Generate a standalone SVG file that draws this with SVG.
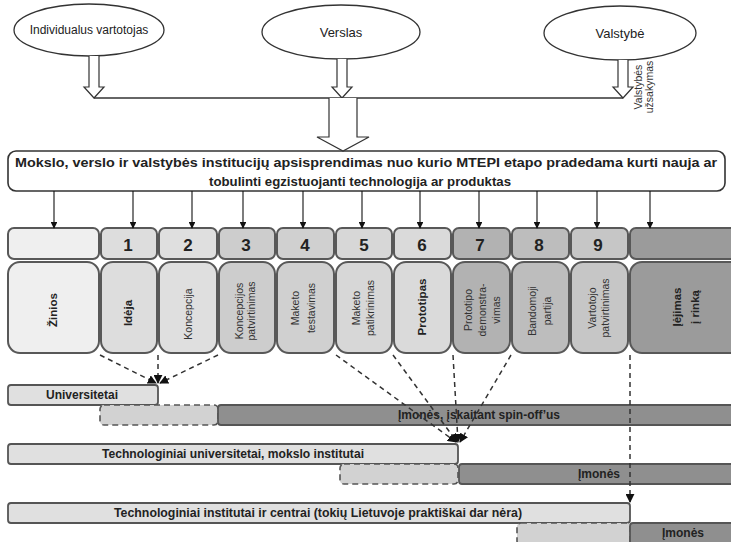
<svg xmlns="http://www.w3.org/2000/svg" width="731" height="542" viewBox="0 0 731 542">
  <defs>
    <marker id="ah" viewBox="0 0 10 10" refX="9" refY="5" markerWidth="6" markerHeight="6" orient="auto">
      <path d="M0,0 L10,5 L0,10 z" fill="#111"/>
    </marker>
    <marker id="ahd" viewBox="0 0 10 10" refX="9" refY="5" markerWidth="6" markerHeight="6" orient="auto">
      <path d="M0,0 L10,5 L0,10 z" fill="#111"/>
    </marker>
  </defs>
  <style>
    text { font-family: "Liberation Sans", Arial, sans-serif; fill: #222; }
    .ell { fill: #fff; stroke: #333; stroke-width: 1.3; }
    .hollow { fill: #fff; stroke: #333; stroke-width: 1.2; stroke-linejoin: miter; }
    .line { fill: none; stroke: #333; stroke-width: 1.3; }
    .conn { fill: none; stroke: #111; stroke-width: 1.1; marker-end: url(#ah); }
    .dash { fill: none; stroke: #333; stroke-width: 1.5; stroke-dasharray: 5 4; marker-end: url(#ahd); }
    .box { stroke: #585858; stroke-width: 2; }
    .num { font-size: 17px; font-weight: bold; text-anchor: middle; dominant-baseline: central; }
    .vt { font-size: 10.5px; text-anchor: middle; dominant-baseline: central; fill: #333; }
    .vb { font-size: 11.5px; font-weight: bold; text-anchor: middle; dominant-baseline: central; }
    .bar { stroke: #555; stroke-width: 1.8; }
    .bartext { font-size: 12px; font-weight: bold; text-anchor: middle; dominant-baseline: central; }
    .light { fill: #e0e0e0; }
    .dashbox { fill: #d2d2d2; stroke: #555; stroke-width: 1.6; stroke-dasharray: 6 4; }
    .dark { fill: #8f8f8f; }
  </style>

  <!-- actors -->
  <g id="node-individualus">
    <ellipse class="ell" cx="89" cy="30" rx="75" ry="26"/>
    <text x="89" y="30" font-size="12" text-anchor="middle" dominant-baseline="central">Individualus vartotojas</text>
  </g>
  <g id="node-verslas">
    <ellipse class="ell" cx="341" cy="32" rx="79" ry="27"/>
    <text x="341" y="32" font-size="13" text-anchor="middle" dominant-baseline="central">Verslas</text>
  </g>
  <g id="node-valstybe">
    <ellipse class="ell" cx="620" cy="33" rx="76" ry="27"/>
    <text x="620" y="33" font-size="13" text-anchor="middle" dominant-baseline="central">Valstybė</text>
  </g>
  <g id="label-uzsakymas">
    <text class="vt" font-size="8.5" transform="translate(638,87) rotate(-90)">Valstybės</text>
    <text class="vt" font-size="8.5" transform="translate(649,87) rotate(-90)">užsakymas</text>
  </g>

  <!-- decision box -->
  <g id="node-sprendimas">
    <rect x="8" y="151" width="717" height="40" rx="8" fill="#fff" stroke="#333" stroke-width="1.6"/>
    <text x="366" y="162" font-size="13" font-weight="bold" text-anchor="middle" dominant-baseline="central" textLength="702" lengthAdjust="spacingAndGlyphs">Mokslo, verslo ir valstybės institucijų apsisprendimas nuo kurio MTEPI etapo pradedama kurti nauja ar</text>
    <text x="360" y="181" font-size="13" font-weight="bold" text-anchor="middle" dominant-baseline="central" textLength="302" lengthAdjust="spacingAndGlyphs">tobulinti egzistuojanti technologija ar produktas</text>
  </g>

  <!-- stage columns -->
  <g id="stage-0">
    <rect class="box" x="8" y="228" width="91" height="31" rx="6" fill="#efefef"/>
    <rect class="box" x="8" y="262" width="91" height="91" rx="12" fill="#efefef"/>
    <text class="vb" transform="translate(53,310) rotate(-90)">Žinios</text>
  </g>
  <g id="stage-1">
    <rect class="box" x="101" y="228" width="56" height="31" rx="6" fill="#dddddd"/>
    <rect class="box" x="101" y="262" width="56" height="91" rx="12" fill="#dddddd"/>
    <text class="num" x="128" y="245">1</text>
    <text class="vb" transform="translate(128,313) rotate(-90)">Idėja</text>
  </g>
  <g id="stage-2">
    <rect class="box" x="159" y="228" width="58" height="31" rx="6" fill="#dfdfdf"/>
    <rect class="box" x="159" y="262" width="58" height="91" rx="12" fill="#dfdfdf"/>
    <text class="num" x="188" y="245">2</text>
    <text class="vt" transform="translate(188,314) rotate(-90)">Koncepcija</text>
  </g>
  <g id="stage-3">
    <rect class="box" x="219" y="228" width="56" height="31" rx="6" fill="#cdcdcd"/>
    <rect class="box" x="219" y="262" width="56" height="91" rx="12" fill="#cdcdcd"/>
    <text class="num" x="246" y="245">3</text>
    <text class="vt" transform="translate(239,311) rotate(-90)">Koncepcijos</text>
    <text class="vt" transform="translate(251,311) rotate(-90)">patvirtinimas</text>
  </g>
  <g id="stage-4">
    <rect class="box" x="277" y="228" width="57" height="31" rx="6" fill="#d0d0d0"/>
    <rect class="box" x="277" y="262" width="57" height="91" rx="12" fill="#d0d0d0"/>
    <text class="num" x="305" y="245">4</text>
    <text class="vt" transform="translate(295,308) rotate(-90)">Maketo</text>
    <text class="vt" transform="translate(311,308) rotate(-90)">testavimas</text>
  </g>
  <g id="stage-5">
    <rect class="box" x="336" y="228" width="56" height="31" rx="6" fill="#d7d7d7"/>
    <rect class="box" x="336" y="262" width="56" height="91" rx="12" fill="#d7d7d7"/>
    <text class="num" x="364" y="245">5</text>
    <text class="vt" transform="translate(356,308) rotate(-90)">Maketo</text>
    <text class="vt" transform="translate(370,308) rotate(-90)">patikrinimas</text>
  </g>
  <g id="stage-6">
    <rect class="box" x="394" y="228" width="57" height="31" rx="6" fill="#dadada"/>
    <rect class="box" x="394" y="262" width="57" height="91" rx="12" fill="#dadada"/>
    <text class="num" x="422" y="245">6</text>
    <text class="vb" transform="translate(422,307) rotate(-90)">Prototipas</text>
  </g>
  <g id="stage-7">
    <rect class="box" x="453" y="228" width="57" height="31" rx="6" fill="#b2b2b2"/>
    <rect class="box" x="453" y="262" width="57" height="91" rx="12" fill="#b2b2b2"/>
    <text class="num" x="480" y="245">7</text>
    <text class="vt" transform="translate(468,310) rotate(-90)">Prototipo</text>
    <text class="vt" transform="translate(482,310) rotate(-90)">demonstra-</text>
    <text class="vt" transform="translate(496,310) rotate(-90)">vimas</text>
  </g>
  <g id="stage-8">
    <rect class="box" x="512" y="228" width="57" height="31" rx="6" fill="#bdbdbd"/>
    <rect class="box" x="512" y="262" width="57" height="91" rx="12" fill="#bdbdbd"/>
    <text class="num" x="539" y="245">8</text>
    <text class="vt" transform="translate(532,311) rotate(-90)">Bandomoji</text>
    <text class="vt" transform="translate(547,311) rotate(-90)">partija</text>
  </g>
  <g id="stage-9">
    <rect class="box" x="571" y="228" width="57" height="31" rx="6" fill="#c6c6c6"/>
    <rect class="box" x="571" y="262" width="57" height="91" rx="12" fill="#c6c6c6"/>
    <text class="num" x="598" y="245">9</text>
    <text class="vt" transform="translate(592,308) rotate(-90)">Vartotojo</text>
    <text class="vt" transform="translate(605,308) rotate(-90)">patvirtinimas</text>
  </g>
  <g id="stage-10">
    <rect class="box" x="630" y="228" width="115" height="31" rx="6" fill="#9b9b9b"/>
    <rect class="box" x="630" y="262" width="115" height="91" rx="12" fill="#9b9b9b"/>
    <text class="vb" font-size="12.5" transform="translate(677,307) rotate(-90)">Įėjimas</text>
    <text class="vb" font-size="12.5" transform="translate(695,307) rotate(-90)">į rinką</text>
  </g>

  <!-- performer bars -->
  <g id="row-universitetai">
    <rect class="bar light" x="8" y="385" width="150" height="20" rx="3"/>
    <text class="bartext" x="82" y="395">Universitetai</text>
    <rect class="dashbox" x="100" y="405" width="118" height="20" rx="4"/>
    <rect class="bar dark" x="218" y="405" width="525" height="20" rx="3"/>
    <text class="bartext" x="479" y="415" textLength="162" lengthAdjust="spacingAndGlyphs">Įmonės, įskaitant spin-off’us</text>
  </g>
  <g id="row-technologiniai-universitetai">
    <rect class="bar light" x="8" y="444" width="450" height="20" rx="3"/>
    <text class="bartext" x="233" y="454" textLength="262" lengthAdjust="spacingAndGlyphs">Technologiniai  universitetai, mokslo institutai</text>
    <rect class="dashbox" x="340" y="464" width="118" height="20" rx="4"/>
    <rect class="bar dark" x="459" y="464" width="284" height="20" rx="3"/>
    <text class="bartext" x="599" y="474">Įmonės</text>
  </g>
  <g id="row-technologiniai-institutai">
    <rect class="bar light" x="8" y="503" width="622" height="20" rx="3"/>
    <text class="bartext" x="318" y="513" textLength="408" lengthAdjust="spacingAndGlyphs">Technologiniai  institutai ir centrai  (tokių Lietuvoje praktiškai  dar nėra)</text>
    <rect class="dashbox" x="517" y="523" width="113" height="22" rx="4"/>
    <rect class="bar dark" x="630" y="523" width="113" height="22" rx="3"/>
    <text class="bartext" x="683" y="533">Įmonės</text>
  </g>

  <!-- connectors -->
  <g id="connectors">
    <!-- hollow arrows from actors -->
    <path class="hollow" d="M89,56 V87 H84 L94,98 L104,87 H99 V56"/>
    <path class="hollow" d="M337,59 V87 H332 L342,98 L352,87 H347 V59"/>
    <path class="hollow" d="M618,60 V87 H613 L623,98 L633,87 H628 V60"/>
    <line class="line" x1="94" y1="98" x2="623" y2="98"/>
    <!-- combined wide arrow into decision box -->
    <path class="hollow" d="M329,98 V137 H317 L343,151 L369,137 H357 V98"/>
    <!-- decision box to each stage -->
    <line class="conn" x1="54" y1="191" x2="54" y2="228"/>
    <line class="conn" x1="133" y1="191" x2="133" y2="228"/>
    <line class="conn" x1="192" y1="191" x2="192" y2="228"/>
    <line class="conn" x1="243" y1="191" x2="243" y2="228"/>
    <line class="conn" x1="303" y1="191" x2="303" y2="228"/>
    <line class="conn" x1="362" y1="191" x2="362" y2="228"/>
    <line class="conn" x1="420" y1="191" x2="420" y2="228"/>
    <line class="conn" x1="479" y1="191" x2="479" y2="228"/>
    <line class="conn" x1="537" y1="191" x2="537" y2="228"/>
    <line class="conn" x1="597" y1="191" x2="597" y2="228"/>
    <line class="conn" x1="650" y1="191" x2="650" y2="228"/>
    <!-- stage ranges to performers -->
    <line class="dash" x1="100" y1="355" x2="156" y2="383"/>
    <line class="dash" x1="158" y1="355" x2="158" y2="383"/>
    <line class="dash" x1="218" y1="355" x2="160" y2="383"/>
    <line class="dash" x1="336" y1="355" x2="456" y2="442"/>
    <line class="dash" x1="393" y1="355" x2="457" y2="442"/>
    <line class="dash" x1="453" y1="355" x2="458" y2="442"/>
    <line class="dash" x1="511" y1="355" x2="460" y2="442"/>
    <line class="dash" x1="630" y1="355" x2="630" y2="502"/>
  </g>
</svg>
